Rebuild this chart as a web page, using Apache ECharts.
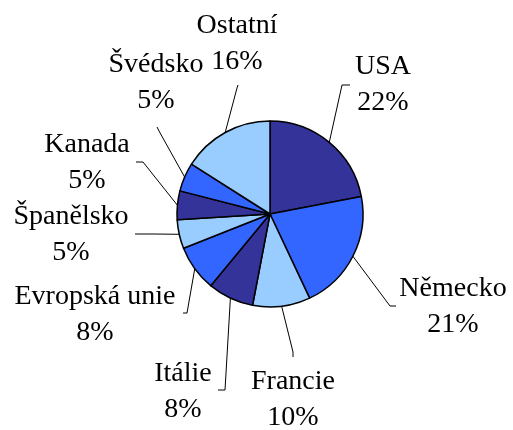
<!DOCTYPE html>
<html>
<head>
<meta charset="utf-8">
<script src="https://cdn.jsdelivr.net/npm/echarts@6/dist/echarts.min.js"></script>
<style>
  html, body { margin: 0; padding: 0; background: #fff; }
  #chart { width: 513px; height: 430px; }
</style>
</head>
<body>
<div id="chart"></div>
<script>
// data
const countries = ['USA', 'Německo', 'Francie', 'Itálie', 'Evropská unie', 'Španělsko', 'Kanada', 'Švédsko', 'Ostatní'];
const shares = [22, 21, 10, 8, 8, 5, 5, 5, 16];
const sliceColors = ['#333399', '#3366FF', '#99CCFF', '#333399', '#3366FF', '#99CCFF', '#333399', '#3366FF', '#99CCFF'];

// label placement (text block centre) and leader line bend / end
const labelPos = [[383, 85], [453, 307], [293, 400], [183, 392], [95, 315], [71, 235], [87, 163], [156, 83], [237, 44]];
const lineBend = [[342, 85], [390, 306], [293, 352], [225, 390], [187, 313], [153, 234], [143, 162], [159, 131], [237, 88]];
const lineEnd = [[350, 85], [396, 306], [293, 357], [218, 390], [183, 313], [135, 234], [136, 162], [157, 127], [238, 85]];

const chart = echarts.init(document.getElementById('chart'));

chart.setOption({
    animation: false,
    backgroundColor: '#fff',
    series: [{
        type: 'pie',
        center: [270, 214],
        radius: 93,
        startAngle: 90,
        avoidLabelOverlap: false,
        itemStyle: { borderColor: '#000', borderWidth: 1.5 },
        label: {
            position: 'outside',
            formatter: '{b}\n{c}%',
            color: '#000',
            fontFamily: 'Liberation Serif',
            fontSize: 28,
            lineHeight: 36,
            align: 'center'
        },
        labelLine: { show: true, lineStyle: { color: '#000', width: 1 } },
        labelLayout: function (params) {
            const i = params.dataIndex;
            const start = params.labelLinePoints[0];
            return {
                x: labelPos[i][0],
                y: labelPos[i][1],
                align: 'center',
                verticalAlign: 'middle',
                labelLinePoints: [start, lineBend[i], lineEnd[i]]
            };
        },
        emphasis: { disabled: true },
        data: countries.map((name, i) => ({
            name: name,
            value: shares[i],
            itemStyle: { color: sliceColors[i] }
        }))
    }]
});
</script>
</body>
</html>
